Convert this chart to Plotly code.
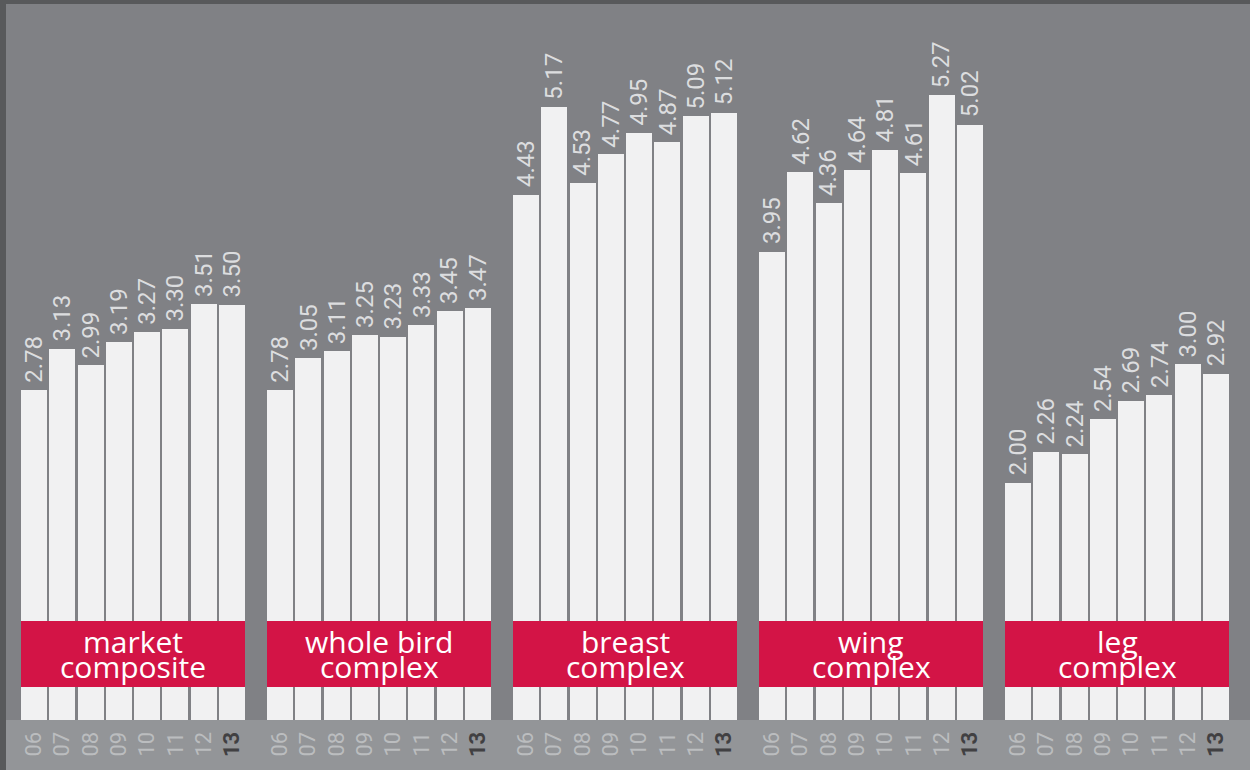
import plotly.graph_objects as go

# ---------------- data ----------------
groups = [["market", "composite"], ["whole bird", "complex"], ["breast", "complex"],
          ["wing", "complex"], ["leg", "complex"]]
years = ["06", "07", "08", "09", "10", "11", "12", "13"]
market_composite = [2.78, 3.13, 2.99, 3.19, 3.27, 3.30, 3.51, 3.50]
whole_bird_complex = [2.78, 3.05, 3.11, 3.25, 3.23, 3.33, 3.45, 3.47]
breast_complex = [4.43, 5.17, 4.53, 4.77, 4.95, 4.87, 5.09, 5.12]
wing_complex = [3.95, 4.62, 4.36, 4.64, 4.81, 4.61, 5.27, 5.02]
leg_complex = [2.00, 2.26, 2.24, 2.54, 2.69, 2.74, 3.00, 2.92]
series = [market_composite, whole_bird_complex, breast_complex, wing_complex, leg_complex]

# ---------------- layout constants (pixels) ----------------
W, H = 1250, 770
BOTTOM = 50
PLOT_H = H - BOTTOM            # 720 px
PX_PER_UNIT = 118.6
BAR_W = 26.0
BAR_PITCH = (224.0 - BAR_W) / 7
GROUP_PITCH = 246.0
FIRST_BAR_CENTER = 21.0 + BAR_W / 2

BG = "#808185"
DARK = "#58595b"
STRIP = "#939598"
BAR = "#f1f1f2"
RED = "#d31446"
LABEL = "#dcdddf"

def px_to_paper_y(py):
    return (PLOT_H - py) / PLOT_H

xs, ys, tickvals, ticktext = [], [], [], []
for g, vals in enumerate(series):
    for j, v in enumerate(vals):
        x = FIRST_BAR_CENTER + g * GROUP_PITCH + j * BAR_PITCH
        xs.append(x)
        ys.append(v)
        tickvals.append(x)
        if years[j] == "13":
            ticktext.append("<b><span style='color:#414042'>13</span></b>")
        else:
            ticktext.append(years[j])

fig = go.Figure()
fig.add_trace(go.Bar(
    x=xs, y=ys, width=BAR_W,
    marker=dict(color=BAR, line=dict(width=0)),
    hoverinfo="skip",
))

annotations = []
for x, v in zip(xs, ys):
    annotations.append(dict(
        x=x, y=v, xref="x", yref="y", text=f"{v:.2f}", showarrow=False,
        textangle=-90, xanchor="center", yanchor="bottom", yshift=5,
        font=dict(family="Roboto", size=24, color=LABEL),
    ))

shapes = []
for g, lines in enumerate(groups):
    x0 = FIRST_BAR_CENTER + g * GROUP_PITCH - BAR_W / 2
    x1 = FIRST_BAR_CENTER + g * GROUP_PITCH + 7 * BAR_PITCH + BAR_W / 2
    shapes.append(dict(type="rect", xref="x", yref="paper", x0=x0, x1=x1,
                       y0=px_to_paper_y(687), y1=px_to_paper_y(621),
                       fillcolor=RED, line=dict(width=0), layer="above"))
    xc = (x0 + x1) / 2
    for k, line in enumerate(lines):
        annotations.append(dict(
            x=xc, y=px_to_paper_y(641 + 25 * k), xref="x", yref="paper",
            text=line, showarrow=False, xanchor="center", yanchor="middle",
            font=dict(family="Open Sans", size=30, color="white"),
        ))

# dark border on left and top
shapes.append(dict(type="rect", xref="paper", yref="paper", x0=0, x1=6 / W,
                   y0=-BOTTOM / PLOT_H, y1=1, fillcolor=DARK, line=dict(width=0), layer="below"))
shapes.append(dict(type="rect", xref="paper", yref="paper", x0=0, x1=1,
                   y0=px_to_paper_y(4), y1=1, fillcolor=DARK, line=dict(width=0), layer="below"))

fig.update_layout(
    width=W, height=H,
    margin=dict(l=0, r=0, t=0, b=BOTTOM, pad=0),
    paper_bgcolor=STRIP, plot_bgcolor=BG,
    showlegend=False, bargap=0,
    xaxis=dict(range=[0, W], tickmode="array",
               tickvals=tickvals, ticktext=ticktext, tickangle=-90,
               tickfont=dict(family="Roboto", size=22, color="#bbbdbf"),
               showgrid=False, zeroline=False, showline=False,
               ticks="outside", ticklen=2, tickcolor="rgba(0,0,0,0)", fixedrange=True),
    yaxis=dict(range=[0, PLOT_H / PX_PER_UNIT], visible=False, fixedrange=True),
    shapes=shapes, annotations=annotations,
)

fig.write_html("out.html")
